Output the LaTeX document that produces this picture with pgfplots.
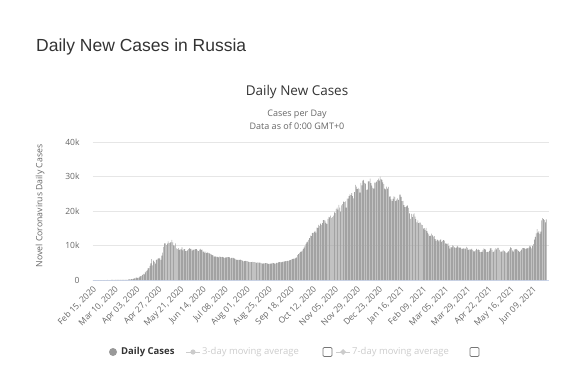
\documentclass[border=0pt]{standalone}
\usepackage{pgfplots}
\pgfplotsset{compat=1.18}
\usepackage{pgfplotstable}
\usepackage{fontspec}
\setmainfont{Open Sans}
\newfontfamily\titlefont{Liberation Sans}
\definecolor{titlecol}{HTML}{333333}
\definecolor{subcol}{HTML}{666666}
\definecolor{tickcol}{HTML}{666666}
\definecolor{gridcol}{HTML}{E6E6E6}
\definecolor{axiscol}{HTML}{CCD6EB}
\definecolor{barcol}{HTML}{A2A2A2}
\definecolor{legcol}{HTML}{999999}
\definecolor{hidecol}{HTML}{CCCCCC}
\definecolor{boxcol}{HTML}{767676}

\pgfplotstableread[row sep=\\, header=false]{
0\\0\\0\\0\\0\\0\\0\\0\\0\\0\\0\\0\\0\\0\\0\\
0\\1\\0\\0\\0\\1\\6\\7\\0\\3\\8\\6\\17\\14\\4\\30\\21\\33\\52\\54\\53\\61\\71\\57\\163\\182\\196\\228\\270\\302\\500\\
440\\771\\601\\582\\658\\954\\1154\\1175\\1459\\1786\\1667\\2186\\2558\\2774\\3388\\3448\\4070\\4785\\6060\\4268\\5642\\5236\\4774\\5849\\5966\\6361\\6198\\6411\\5841\\7099\\
7933\\9623\\10633\\10581\\10102\\10559\\11231\\10699\\10817\\11012\\11656\\10899\\10028\\9974\\10598\\9200\\8926\\9263\\8764\\8849\\8894\\9434\\8599\\8946\\8915\\8338\\8371\\8572\\8952\\9268\\9035\\
9035\\8536\\8831\\8726\\8855\\8984\\8985\\8595\\8404\\8779\\8987\\8706\\8835\\8248\\8246\\7843\\8248\\7790\\7972\\7889\\7728\\7600\\7425\\7176\\7113\\6800\\6852\\6791\\6719\\6693\\
6556\\6760\\6718\\6632\\6736\\6611\\6368\\6562\\6509\\6635\\6611\\6615\\6537\\6248\\6422\\6428\\6406\\6234\\6109\\5940\\5842\\5862\\5848\\5811\\5871\\5765\\5635\\5395\\5475\\5509\\5482\\
5462\\5427\\5159\\5204\\5204\\5212\\5241\\5212\\5189\\5118\\4945\\5102\\5057\\5065\\5061\\4969\\4839\\4748\\4790\\4785\\4870\\4921\\4852\\4676\\4696\\4711\\4758\\4829\\4980\\4897\\4729\\
4729\\4952\\4995\\5110\\5205\\5195\\5099\\5185\\5363\\5363\\5406\\5449\\5488\\5509\\5529\\5670\\5762\\5905\\6065\\6148\\6196\\6215\\6431\\6595\\7212\\7523\\7867\\8135\\8232\\8481\\
8945\\9412\\9859\\10499\\10888\\11115\\11615\\12126\\12846\\12743\\13634\\13592\\13868\\14231\\13754\\15150\\15099\\15982\\15700\\16319\\15971\\16521\\17340\\17347\\17205\\16550\\16202\\17717\\18283\\18140\\18665\\
17975\\18257\\18648\\19768\\19404\\20582\\20977\\20396\\21798\\20977\\19851\\21608\\21983\\22702\\22572\\22778\\20977\\23610\\23610\\24318\\24822\\24581\\25173\\24326\\23675\\25487\\27543\\27100\\26338\\26683\\
26402\\25345\\28145\\27403\\28782\\29039\\28137\\27927\\26097\\26190\\28585\\28585\\29350\\28080\\27328\\26689\\26509\\28214\\28209\\28552\\28948\\29350\\28776\\29935\\29258\\29018\\28284\\27787\\26513\\26301\\27039\\
26513\\27029\\24150\\24246\\23351\\22851\\23541\\24217\\24092\\22851\\23315\\23652\\23216\\24715\\24763\\24092\\22857\\22934\\21734\\21152\\21127\\21513\\21655\\20921\\19290\\17741\\19138\\18241\\19032\\19290\\18359\\
17648\\16714\\17282\\16474\\16643\\16627\\16048\\15916\\14928\\15038\\14494\\15077\\14185\\13663\\13233\\12742\\12828\\13447\\12953\\12604\\12742\\11823\\11359\\11749\\11534\\11198\\11534\\11753\\
11022\\11359\\11571\\11385\\10595\\10565\\10479\\10595\\9851\\9079\\9604\\9445\\10019\\9887\\9437\\9299\\9393\\9908\\9632\\9299\\9445\\9284\\8971\\9128\\9167\\9073\\9088\\9632\\9288\\8711\\8907\\
8792\\8885\\9095\\8646\\8328\\8294\\8616\\8996\\8702\\8907\\8646\\8053\\8162\\8173\\8702\\9150\\8934\\8836\\8053\\8162\\8173\\8464\\9150\\9270\\8697\\8053\\8277\\8780\\9270\\8871\\
9284\\9305\\8731\\8217\\8207\\8328\\8697\\8419\\8329\\7975\\7770\\8165\\8380\\8857\\9462\\9270\\8554\\8217\\8828\\8947\\8896\\8997\\8632\\8373\\8062\\8440\\8780\\9270\\9252\\9268\\9035\\
9022\\9252\\9163\\9364\\9908\\9704\\9145\\9868\\10407\\11699\\12505\\13510\\14723\\13721\\14185\\13397\\14057\\17262\\17906\\17611\\17378\\16715\\17594\\
}\cases

\begin{document}
\begin{tikzpicture}
\path[use as bounding box] (0,0) rectangle (564pt,367pt);
\begin{axis}[
  at={(92.5pt,87pt)}, anchor=south west,
  scale only axis, width=456.5pt, height=138pt,
  xmin=-0.5, xmax=497, ymin=0, ymax=40000,
  axis x line*=bottom, axis y line*=left,
  x axis line style={draw=axiscol, line width=0.8pt},
  y axis line style={draw=none},
  major tick length=0pt, tick style={draw=none},
  ymajorgrids, major grid style={draw=gridcol, line width=0.6pt},
  scaled y ticks=false,
  ytick={0,10000,20000,30000,40000},
  yticklabels={0,10k,20k,30k,40k},
  yticklabel style={font=\fontsize{8.5}{10}\selectfont, text=tickcol, anchor=east, xshift=-9.5pt},
  xtick={0,24,...,480},
  xticklabels={{Feb 15, 2020},{Mar 10, 2020},{Apr 03, 2020},{Apr 27, 2020},{May 21, 2020},{Jun 14, 2020},{Jul 08, 2020},{Aug 01, 2020},{Aug 25, 2020},{Sep 18, 2020},{Oct 12, 2020},{Nov 05, 2020},{Nov 29, 2020},{Dec 23, 2020},{Jan 16, 2021},{Feb 09, 2021},{Mar 05, 2021},{Mar 29, 2021},{Apr 22, 2021},{May 16, 2021},{Jun 09, 2021}},
  xticklabel style={font=\fontsize{8.5}{10}\selectfont, text=tickcol, xshift=2pt, yshift=-8pt, rotate=45, anchor=east, inner sep=0pt},
]
\addplot[ybar, bar width=0.62, fill=barcol, draw=none] table[x expr=\coordindex, y index=0]{\cases};
\end{axis}
% titles
\node[anchor=west, inner sep=0pt, text=titlecol, font=\titlefont\fontsize{17.5}{20}\selectfont] at (36pt,320pt) {Daily New Cases in Russia};
\node[inner sep=0pt, text=titlecol, font=\fontsize{13.5}{16}\selectfont] at (297pt,275pt) {Daily New Cases};
\node[inner sep=0pt, text=subcol, font=\fontsize{9}{11}\selectfont] at (297pt,253pt) {Cases per Day};
\node[inner sep=0pt, text=subcol, font=\fontsize{9}{11}\selectfont] at (297pt,241pt) {Data as of 0:00 GMT+0};
\node[inner sep=0pt, text=subcol, rotate=90, font=\fontsize{8.7}{10}\selectfont] at (40pt,161pt) {Novel Coronavirus Daily Cases};
% legend
\fill[legcol] (113pt,15pt) circle (4pt);
\node[anchor=west, inner sep=0pt, text=titlecol, font=\bfseries\fontsize{9.5}{11}\selectfont] at (121pt,15pt) {Daily Cases};
\draw[hidecol, line width=1pt] (186pt,15pt) -- (200pt,15pt);
\fill[hidecol] (193pt,15pt) circle (2.6pt);
\node[anchor=west, inner sep=0pt, text=hidecol, font=\fontsize{9.5}{11}\selectfont] at (202pt,15pt) {3-day moving average};
\draw[boxcol, line width=0.7pt, rounded corners=1.2pt, fill=white] (323pt,10.5pt) rectangle (332pt,19.5pt);
\draw[hidecol, line width=1pt] (336pt,15pt) -- (350pt,15pt);
\fill[hidecol] (343pt,18pt) -- (346pt,15pt) -- (343pt,12pt) -- (340pt,15pt) -- cycle;
\node[anchor=west, inner sep=0pt, text=hidecol, font=\fontsize{9.5}{11}\selectfont] at (352pt,15pt) {7-day moving average};
\draw[boxcol, line width=0.7pt, rounded corners=1.2pt, fill=white] (470pt,10.5pt) rectangle (479pt,19.5pt);
\end{tikzpicture}
\end{document}
